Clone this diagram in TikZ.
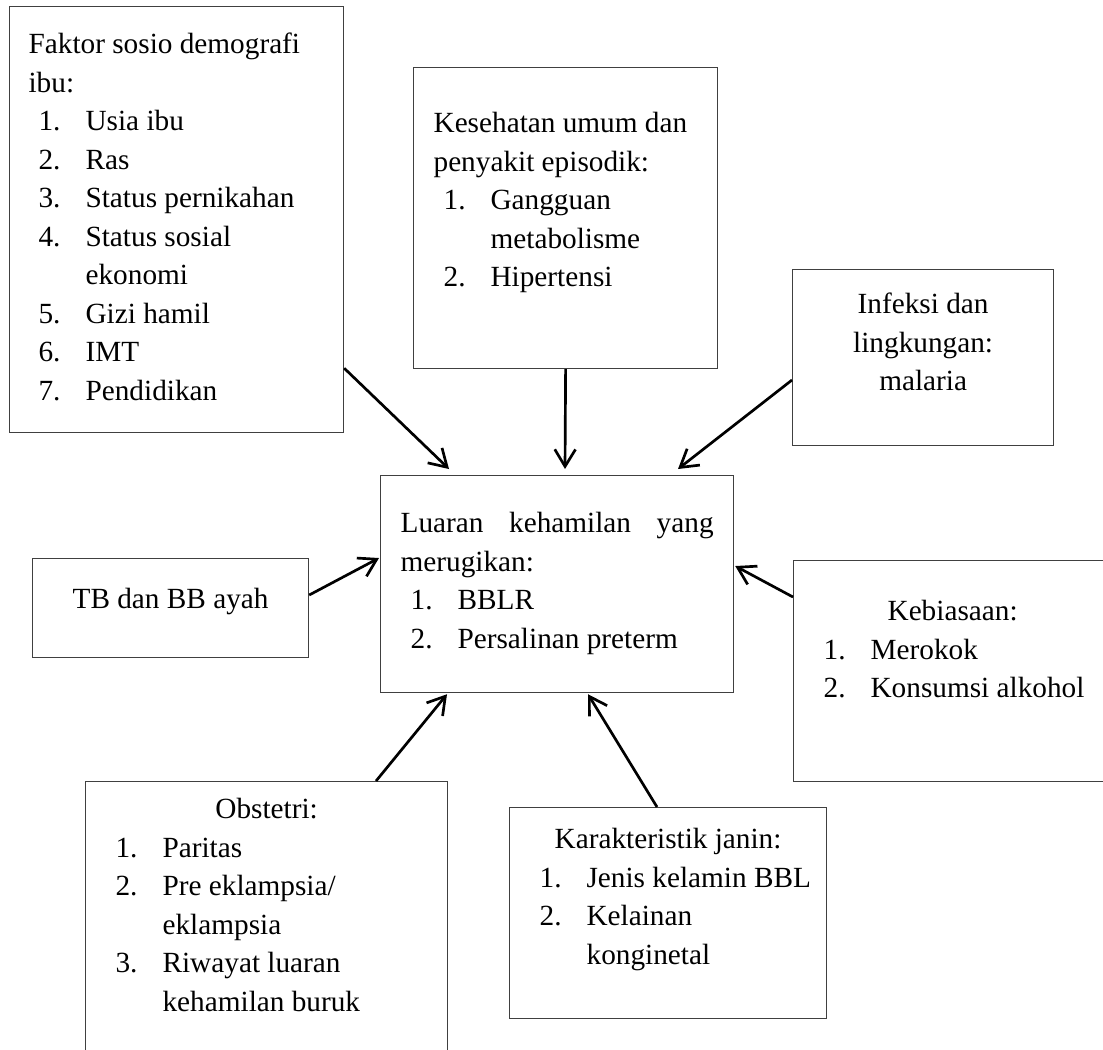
\documentclass[tikz,border=0pt]{standalone}
\usepackage{fontspec}
\setmainfont{Liberation Serif}
\usetikzlibrary{arrows.meta}
\newdimen\px \px=0.41pt
% isi kotak: lebar, tinggi (px), teks
\newcommand{\isi}[3]{\begin{minipage}[t][#2\px][t]{#1\px}\raggedright\strut #3\end{minipage}}
\newcommand{\nom}[2]{\hspace*{10\px}\makebox[47\px][l]{#1}\mbox{#2}}
\newcommand{\lanjut}[1]{\hspace*{57\px}\mbox{#1}}
\newcommand{\tengah}[1]{\makebox[\linewidth]{#1}}
\tikzset{
  kotak/.style={draw=black!75, line width=0.5pt, anchor=north west, inner xsep=20\px},
  panah/.style={-{Straight Barb[length=7pt,width=8.5pt]}, line width=1.1pt}
}
\begin{document}
\begin{tikzpicture}[x=0.41pt, y=-0.41pt, font=\fontsize{12}{15.8}\selectfont]
  \useasboundingbox (0,0) rectangle (1103,1049);
  \node[kotak, inner xsep=19\px, inner ysep=20\px] (faktor) at (9,6)
    {\isi{296}{386}{Faktor sosio demografi\\ ibu:\\
      \nom{1.}{Usia ibu}\\ \nom{2.}{Ras}\\ \nom{3.}{Status pernikahan}\\
      \nom{4.}{Status sosial}\\ \lanjut{ekonomi}\\ \nom{5.}{Gizi hamil}\\
      \nom{6.}{IMT}\\ \nom{7.}{Pendidikan}}};
  \node[kotak, inner ysep=38\px] (kesehatan) at (413,67)
    {\isi{264}{225}{Kesehatan umum dan\\ penyakit episodik:\\
      \nom{1.}{Gangguan}\\ \lanjut{metabolisme}\\ \nom{2.}{Hipertensi}}};
  \node[kotak, inner ysep=17\px] (infeksi) at (792,269)
    {\isi{221}{142}{\centering Infeksi dan\\ lingkungan:\\ malaria}};
  \node[kotak, inner ysep=30\px] (luaran) at (380,475)
    {\isi{313}{157}{\makebox[\linewidth][s]{Luaran kehamilan yang}\\ merugikan:\\
      \nom{1.}{BBLR}\\ \nom{2.}{Persalinan preterm}}};
  \node[kotak, inner ysep=23\px] (tb) at (32,558)
    {\isi{236}{53}{\centering TB dan BB ayah}};
  \node[kotak, inner ysep=33\px] (kebiasaan) at (793,560)
    {\isi{278}{155}{\tengah{Kebiasaan:}\\ \nom{1.}{Merokok}\\ \nom{2.}{Konsumsi alkohol}}};
  \node[kotak, inner ysep=10\px] (obstetri) at (85,781)
    {\isi{322}{280}{\tengah{Obstetri:}\\ \nom{1.}{Paritas}\\ \nom{2.}{Pre eklampsia/}\\
      \lanjut{eklampsia}\\ \nom{3.}{Riwayat luaran}\\ \lanjut{kehamilan buruk}}};
  \node[kotak, inner ysep=14\px] (karakteristik) at (509,807)
    {\isi{277}{183}{\tengah{Karakteristik janin:}\\ \nom{1.}{Jenis kelamin BBL}\\
      \nom{2.}{Kelainan}\\ \lanjut{konginetal}}};
  % panah ke luaran
  \draw[panah] ([shift={(0,-65)}]faktor.south east) -- ([shift={(69,-6)}]luaran.north west);
  \draw[panah] (kesehatan.south) -- ([shift={(185,-6)}]luaran.north west);
  \draw[panah] ([shift={(0,111)}]infeksi.north west) -- ([shift={(298,-6)}]luaran.north west);
  \draw[panah] ([shift={(0,37)}]tb.north east) -- ([shift={(-1,83)}]luaran.north west);
  \draw[panah] ([shift={(0,37)}]kebiasaan.north west) -- ([shift={(1,91)}]luaran.north east);
  \draw[panah] ([shift={(291,0)}]obstetri.north west) -- ([shift={(67,1)}]luaran.south west);
  \draw[panah] ([shift={(148,0)}]karakteristik.north west) -- ([shift={(208,1)}]luaran.south west);
\end{tikzpicture}
\end{document}
